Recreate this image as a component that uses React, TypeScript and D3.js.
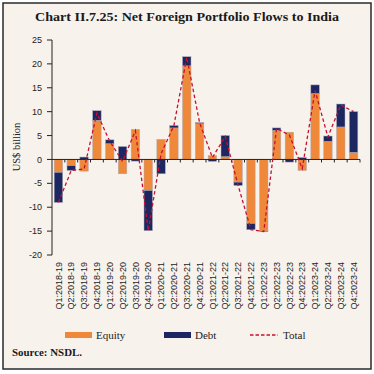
import React from "react";
import * as d3 from "d3";

const categories = [
  "Q1:2018-19","Q2:2018-19","Q3:2018-19","Q4:2018-19",
  "Q1:2019-20","Q2:2019-20","Q3:2019-20","Q4:2019-20",
  "Q1:2020-21","Q2:2020-21","Q3:2020-21","Q4:2020-21",
  "Q1:2021-22","Q2:2021-22","Q3:2021-22","Q4:2021-22",
  "Q1:2022-23","Q2:2022-23","Q3:2022-23","Q4:2022-23",
  "Q1:2023-24","Q2:2023-24","Q3:2023-24","Q4:2023-24",
];
const equity = [-2.7,-1.3,-2.45,8.2,3.3,-3.0,6.3,-6.5,4.2,6.6,19.6,7.5,0.8,0.6,-4.75,-13.4,-15.0,6.1,5.7,-2.3,13.8,3.8,6.8,1.5];
const debt = [-6.3,-1.0,0.5,2.0,0.8,2.7,-0.35,-8.4,-3.0,0.5,1.9,0.2,-0.4,4.4,-0.7,-1.3,-0.1,0.5,-0.55,0.4,1.8,1.1,4.8,8.5];
const total = [-9.0,-2.3,-2.0,9.7,3.8,-0.4,6.0,-14.9,1.2,7.1,21.4,7.7,0.4,4.8,-5.4,-14.7,-15.1,6.5,5.1,-1.9,14.4,4.7,11.4,10.0];
const yTicks = [-20,-15,-10,-5,0,5,10,15,20,25];
const seriesNames = ["Equity","Debt"];
const seriesColors = ["#f0883a","#1c2660"];
const lineColor = "#c8102e";

export default function App() {
  const x = d3.scaleBand<string>().domain(categories).range([52, 360]).paddingInner(0.34).paddingOuter(0.17);
  const y = d3.scaleLinear().domain([-20, 25]).range([255, 40]);
  const rows = categories.map((c, i) => ({ cat: c, Equity: equity[i], Debt: debt[i] }));
  const stack = d3.stack<any>().keys(seriesNames).offset(d3.stackOffsetDiverging);
  const stacked = stack(rows);
  const line = d3.line<number>().x((_, i) => (x(categories[i]) as number) + x.bandwidth() / 2).y((d) => y(d));
  const step = x.step();
  const serif = "'Liberation Serif', 'DejaVu Serif', serif";
  const sans = "'Liberation Sans', Arial, sans-serif";

  return (
    <svg width={374} height={374} style={{ position: "absolute", left: 0, top: 0 }}>
      <rect x={3} y={3} width={368} height={366} fill="#f8f2ed" stroke="#2a2a2a" strokeWidth={1.5} />
      <text x={35} y={20.5} textLength={304} lengthAdjust="spacingAndGlyphs" fontFamily={serif} fontWeight="bold" fontSize={13.5} fill="#1a1a1a">
        Chart II.7.25: Net Foreign Portfolio Flows to India
      </text>
      {stacked.map((s, si) => (
        <g key={s.key}>
          {s.map((d, i) => (
            <rect key={i} x={x(categories[i])} width={x.bandwidth()}
              y={y(Math.max(d[0], d[1]))} height={Math.abs(y(d[0]) - y(d[1]))}
              fill={seriesColors[si]} stroke="#a9a9b8" strokeWidth={0.5} />
          ))}
        </g>
      ))}
      <line x1={52} x2={52} y1={40} y2={255} stroke="#222" strokeWidth={1} />
      {yTicks.map((t) => (
        <g key={t}>
          <line x1={47} x2={52} y1={y(t)} y2={y(t)} stroke="#222" strokeWidth={1} />
          <text x={42} y={y(t)} dy="0.35em" textAnchor="end" fontFamily={sans} fontSize={9} fill="#222">{t}</text>
        </g>
      ))}
      <line x1={52} x2={360} y1={y(0)} y2={y(0)} stroke="#222" strokeWidth={1} />
      {categories.map((c, i) => (
        <line key={c} x1={52 + step * (i + 1)} x2={52 + step * (i + 1)} y1={y(0)} y2={y(0) + 3} stroke="#222" strokeWidth={1} />
      ))}
      <path d={line(total) || ""} fill="none" stroke={lineColor} strokeWidth={1.3} strokeDasharray="3.5,2.5" />
      {categories.map((c) => (
        <text key={c} transform={`translate(${(x(c) as number) + x.bandwidth() / 2},262) rotate(-90)`}
          dy="0.35em" textAnchor="end" fontFamily={sans} fontSize={9} fill="#222">{c}</text>
      ))}
      <text transform="translate(20,147) rotate(-90)" textAnchor="middle" fontFamily={serif} fontSize={10.5} fill="#222">US$ billion</text>
      <rect x={65} y={332} width={27} height={6} fill={seriesColors[0]} />
      <text x={96} y={338.5} fontFamily={serif} fontSize={11} fill="#222">Equity</text>
      <rect x={164} y={332} width={27} height={6} fill={seriesColors[1]} />
      <text x={195} y={338.5} fontFamily={serif} fontSize={11} fill="#222">Debt</text>
      <line x1={250} x2={278} y1={335} y2={335} stroke={lineColor} strokeWidth={1.3} strokeDasharray="3.5,2" />
      <text x={283} y={338.5} fontFamily={serif} fontSize={11} fill="#222">Total</text>
      <text x={12} y={356} textLength={70} lengthAdjust="spacingAndGlyphs" fontFamily={serif} fontWeight="bold" fontSize={10} fill="#1a1a1a">Source: NSDL.</text>
    </svg>
  );
}
